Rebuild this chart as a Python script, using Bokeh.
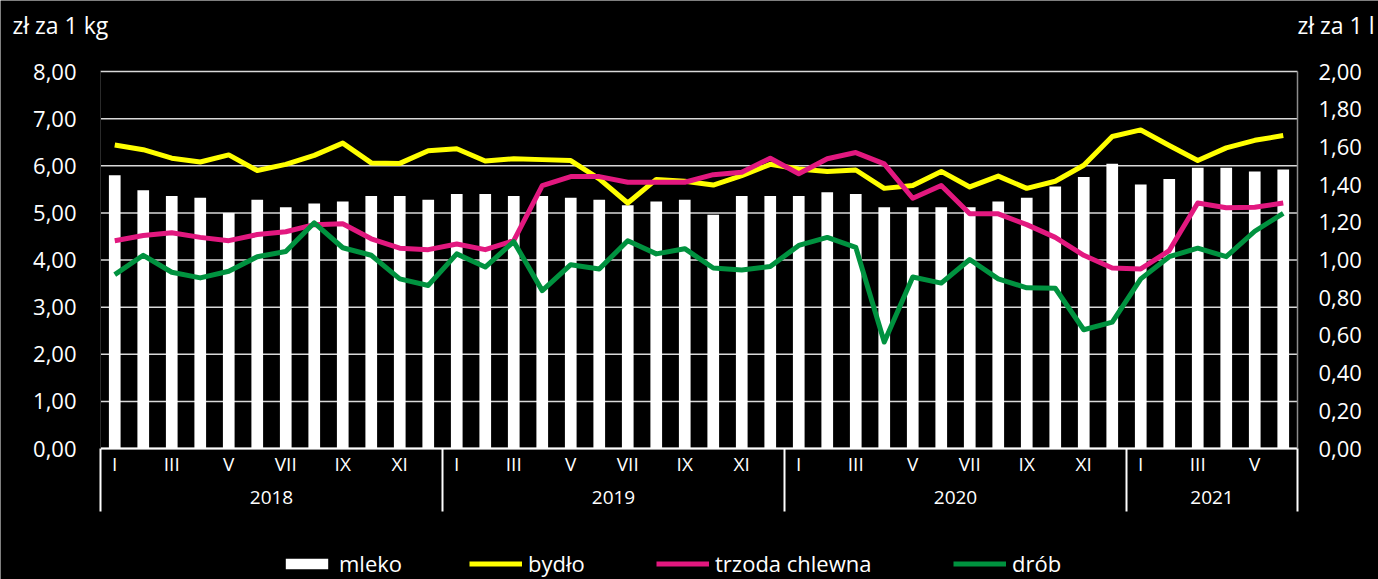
from bokeh.plotting import figure
from bokeh.models import (Range1d, LinearAxis, FixedTicker, CustomJSTickFormatter,
                          Legend, LegendItem, ColumnDataSource, Label)
from bokeh.embed import file_html
from bokeh.resources import INLINE

years = ["2018", "2019", "2020", "2021"]
months_per_year = [12, 12, 12, 6]
roman = ["I", "II", "III", "IV", "V", "VI", "VII", "VIII", "IX", "X", "XI", "XII"]
unit_left = "zł za 1 kg"
unit_right = "zł za 1 l"
series_names = ["mleko", "bydło", "trzoda chlewna", "drób"]

# mleko (zł za 1 l, right axis)
mleko = [1.45, 1.37, 1.34, 1.33, 1.25, 1.32, 1.28, 1.30, 1.31, 1.34, 1.34, 1.32,
         1.35, 1.35, 1.34, 1.34, 1.33, 1.32, 1.29, 1.31, 1.32, 1.24, 1.34, 1.34,
         1.34, 1.36, 1.35, 1.28, 1.28, 1.28, 1.28, 1.31, 1.33, 1.39, 1.44, 1.51,
         1.40, 1.43, 1.49, 1.49, 1.47, 1.48]
# bydło (zł za 1 kg)
bydlo = [6.44, 6.34, 6.16, 6.08, 6.23, 5.90, 6.03, 6.22, 6.48, 6.06, 6.05, 6.32,
         6.36, 6.10, 6.15, 6.13, 6.11, 5.72, 5.21, 5.71, 5.67, 5.59, 5.79, 6.03,
         5.93, 5.88, 5.91, 5.52, 5.58, 5.88, 5.55, 5.78, 5.52, 5.67, 6.01, 6.62,
         6.76, 6.43, 6.11, 6.38, 6.54, 6.64]
# trzoda chlewna (zł za 1 kg)
trzoda = [4.41, 4.52, 4.58, 4.48, 4.41, 4.54, 4.60, 4.75, 4.77, 4.45, 4.25, 4.22,
          4.34, 4.22, 4.41, 5.58, 5.77, 5.77, 5.65, 5.65, 5.65, 5.81, 5.86, 6.16,
          5.83, 6.15, 6.28, 6.04, 5.31, 5.58, 4.98, 4.98, 4.75, 4.48, 4.10, 3.83,
          3.81, 4.20, 5.21, 5.11, 5.12, 5.21]
# drób (zł za 1 kg)
drob = [3.69, 4.10, 3.74, 3.62, 3.76, 4.07, 4.18, 4.79, 4.26, 4.10, 3.60, 3.46,
        4.13, 3.85, 4.39, 3.35, 3.90, 3.81, 4.41, 4.13, 4.24, 3.83, 3.79, 3.86,
        4.31, 4.48, 4.27, 2.26, 3.64, 3.51, 4.01, 3.60, 3.41, 3.40, 2.52, 2.68,
        3.60, 4.07, 4.25, 4.07, 4.61, 4.99]

left_ticks = [0, 1, 2, 3, 4, 5, 6, 7, 8]
right_ticks = [0, 0.2, 0.4, 0.6, 0.8, 1.0, 1.2, 1.4, 1.6, 1.8, 2.0]

FONT = "Open Sans"
W, H = 1378, 579
# pixel layout of the chart area inside the canvas
PX_L, PX_R, PX_TOP8, PX_0 = 100, 1297, 71, 448
n = len(mleko)
sx = (PX_R - PX_L) / n               # px per month
sy = (PX_0 - PX_TOP8) / 8.0          # px per zł (left scale)
def ydat(px):                        # canvas pixel row -> left-axis value
    return (PX_0 - px) / sy
def xdat(px):                        # canvas pixel column -> month position
    return (px - PX_L) / sx

x_range = Range1d(xdat(0), xdat(W))
y_range = Range1d(ydat(H), ydat(0))

month_labels = []
for cnt in months_per_year:
    month_labels += roman[:cnt]
boundaries = [0]
for cnt in months_per_year:
    boundaries.append(boundaries[-1] + cnt)
year_centers = [(boundaries[i] + boundaries[i + 1]) / 2 for i in range(len(years))]

src = ColumnDataSource(dict(x=[i + 0.5 for i in range(n)], mleko=mleko, bydlo=bydlo,
                            trzoda=trzoda, drob=drob))

p = figure(width=W, height=H, output_backend="svg", toolbar_location=None,
           x_range=x_range, y_range=y_range,
           x_axis_location=None, y_axis_location=None,
           min_border=0, min_border_left=0, min_border_right=0, min_border_top=0,
           min_border_bottom=0,
           background_fill_color="black", border_fill_color="black", outline_line_color=None)
p.extra_y_ranges = {"r": Range1d(y_range.start * 2.0 / 8.0, y_range.end * 2.0 / 8.0)}
for g in p.grid:
    g.visible = False

# horizontal gridlines at the left-axis ticks
p.segment(x0=[0] * len(left_ticks), x1=[n] * len(left_ticks), y0=left_ticks, y1=left_ticks,
          line_color="#d9d9d9", line_width=1.5)

bars = p.vbar(x="x", top="mleko", width=0.41, source=src, y_range_name="r",
              fill_color="white", line_color=None)
l1 = p.line("x", "bydlo", source=src, line_color="#FFFF00", line_width=5, line_join="round")
l2 = p.line("x", "trzoda", source=src, line_color="#E2187F", line_width=5, line_join="round")
l3 = p.line("x", "drob", source=src, line_color="#00923F", line_width=5, line_join="round")

# year separators below the axis
p.segment(x0=boundaries, x1=boundaries, y0=[0] * len(boundaries),
          y1=[ydat(511)] * len(boundaries), line_color="white", line_width=2)

num_fmt = CustomJSTickFormatter(code="return tick.toFixed(2).replace('.', ',');")

def quiet(ax):
    ax.major_tick_line_color = None
    ax.minor_tick_line_color = None
    ax.major_tick_in = 0
    ax.major_tick_out = 0
    ax.minor_tick_in = 0
    ax.minor_tick_out = 0
    ax.major_label_text_color = "white"
    ax.major_label_text_font = FONT
    return ax

left = quiet(LinearAxis(ticker=FixedTicker(ticks=left_ticks), formatter=num_fmt, bounds=(0, 8),
                        fixed_location=0, axis_line_color="#2a2a2a",
                        major_label_text_font_size="22px", major_label_standoff=24))
p.add_layout(left, "left")

right = quiet(LinearAxis(y_range_name="r", ticker=FixedTicker(ticks=right_ticks), formatter=num_fmt,
                         bounds=(0, 2), fixed_location=n, axis_line_color="#8c8c8c",
                         axis_line_width=1.5, major_label_text_font_size="22px",
                         major_label_standoff=21))
p.add_layout(right, "right")

mx = quiet(LinearAxis(ticker=FixedTicker(ticks=[i + 0.5 for i in range(0, n, 2)]),
                      formatter=CustomJSTickFormatter(args=dict(labels=month_labels),
                                                      code="return labels[Math.floor(tick)];"),
                      bounds=(0, n), fixed_location=0, axis_line_color="white", axis_line_width=2,
                      major_label_text_font_size="19px", major_label_standoff=2))
p.add_layout(mx, "below")

yx = quiet(LinearAxis(ticker=FixedTicker(ticks=year_centers),
                      formatter=CustomJSTickFormatter(args=dict(centers=year_centers, names=years),
                          code="let b = 0; for (let i = 0; i < centers.length; i++) { if (Math.abs(centers[i] - tick) < Math.abs(centers[b] - tick)) b = i; } return names[b];"),
                      bounds=(0, n), fixed_location=ydat(488), axis_line_color=None,
                      major_label_text_font_size="19px", major_label_standoff=2))
p.add_layout(yx, "below")

p.add_layout(Label(x=xdat(12), y=ydat(24), text=unit_left, text_color="white",
                   text_font=FONT, text_font_size="23px", text_baseline="middle",
                   text_align="left"))
p.add_layout(Label(x=n, y=ydat(24), text=unit_right, text_color="white",
                   text_font=FONT, text_font_size="23px", text_baseline="middle",
                   text_align="left"))

# one legend per entry so each sits where the reference puts it
legend_x = [280, 469, 656, 953]
for name, rend, lx in zip(series_names, [bars, l1, l2, l3], legend_x):
    lg = Legend(items=[LegendItem(label=name, renderers=[rend])],
                orientation="horizontal", location=(lx, 1),
                background_fill_alpha=0, border_line_color=None,
                label_text_color="white", label_text_font=FONT, label_text_font_size="22px",
                glyph_width=53, glyph_height=13, label_standoff=6, spacing=0,
                padding=0, margin=0)
    p.add_layout(lg)

open("out.html", "w").write(file_html(p, INLINE))
